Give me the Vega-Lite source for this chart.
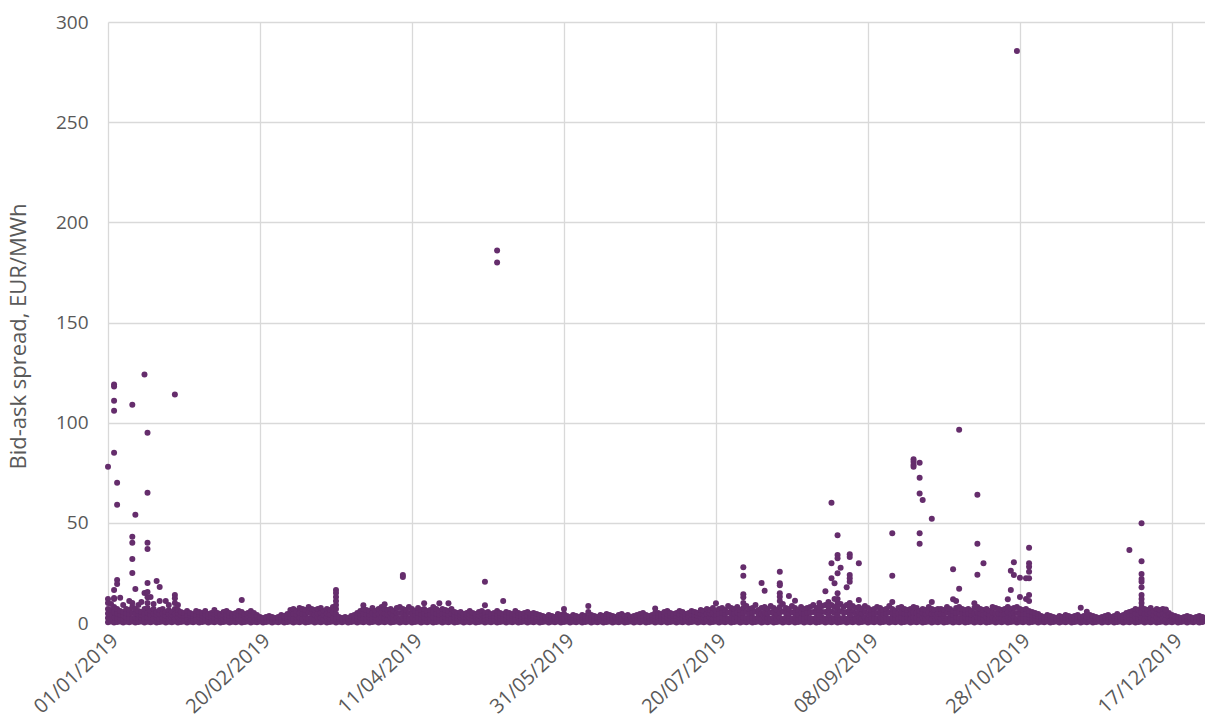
{
"$schema": "https://vega.github.io/schema/vega-lite/v6.json",
"width": 1097,
"height": 601,
"autosize": {"type": "none"},
"padding": {"left": 108, "top": 22, "right": 0, "bottom": 101},
"config": {"view": {"stroke": null}, "font": "Open Sans"},
"encoding": {
  "x": {"field": "d", "type": "temporal",
    "scale": {"domain": [{"year": 2019, "month": 1, "date": 1}, {"year": 2019, "month": 12, "date": 27, "hours": 21}]},
    "axis": {"values": [{"year": 2019, "month": 1, "date": 1}, {"year": 2019, "month": 2, "date": 20}, {"year": 2019, "month": 4, "date": 11}, {"year": 2019, "month": 5, "date": 31}, {"year": 2019, "month": 7, "date": 20}, {"year": 2019, "month": 9, "date": 8}, {"year": 2019, "month": 10, "date": 28}, {"year": 2019, "month": 12, "date": 17}],
      "format": "%d/%m/%Y", "title": null, "labelAngle": -43, "labelAlign": "right", "labelBaseline": "top", "labelPadding": 7,
      "labelFontSize": 20, "labelColor": "#595959", "grid": true, "gridColor": "#d9d9d9", "gridWidth": 1.3, "domain": false, "ticks": false, "labelOverlap": false}},
  "y": {"field": "v", "type": "quantitative",
    "scale": {"domain": [0, 300], "nice": false},
    "axis": {"values": [0, 50, 100, 150, 200, 250, 300], "title": "Bid-ask spread, EUR/MWh", "titleFontSize": 22, "titleFontWeight": "normal", "titleColor": "#595959", "titlePadding": 25, "titleY": 314,
      "labelFontSize": 19, "labelColor": "#595959", "labelPadding": 20, "grid": true, "gridColor": "#d9d9d9", "gridWidth": 1.3, "domain": false, "ticks": false}}
},
"layer": [
{
"data": {"values": "d,a,b,c,t\n2019-01-01,.4,2.5,4.8,7\n2019-01-02,.7,2.1,4.3,6.5\n2019-01-03,.2,2.8,5.4,8\n2019-01-04,.5,2.3,4.7,7\n2019-01-05,.8,2.6,4.3,6\n2019-01-06,.3,2.0,3.8,5.5\n2019-01-07,.6,2.7,4.9,7\n2019-01-08,.4,2.5,4.5,6.5\n2019-01-09,.7,2.1,5,8\n2019-01-10,.2,2.8,4.9,7\n2019-01-11,.5,2.3,4.2,6\n2019-01-12,.8,2.6,4,5.5\n2019-01-13,.3,2.0,4.5,7\n2019-01-14,.6,2.7,5.1,7.5\n2019-01-15,.4,2.5,4.3,6\n2019-01-16,.7,2.1,4.6,7\n2019-01-17,.2,2.8,4.2,5.5\n2019-01-18,.5,2.3,4.4,6.5\n2019-01-19,.8,2.6,4.8,7\n2019-01-20,.3,2.0,3.8,5.5\n2019-01-21,.6,2.7,4.6,6.5\n2019-01-22,.4,2.5,4,5.5\n2019-01-23,.7,2.1,4.6,7\n2019-01-24,.2,2.8,4.7,6.5\n2019-01-25,.5,2.3,3.9,5.5\n2019-01-26,.8,2.6,3.8,5\n2019-01-27,.3,2.0,4,6\n2019-01-28,.6,2.7,3.9,5\n2019-01-29,.4,2.5,3.5,4.5\n2019-01-30,.7,2.1,4,6\n2019-01-31,.2,2.8,4.2,5.5\n2019-02-01,.5,2.3,3.7,5\n2019-02-02,.8,2.6,4.3,6\n2019-02-03,.3,2.0,3.3,4.5\n2019-02-04,.6,2.7,3.9,5\n2019-02-05,.4,2.5,4.5,6.5\n2019-02-06,.7,2.1,3.6,5\n2019-02-07,.2,2.8,3.7,4.5\n2019-02-08,.5,2.3,3.9,5.5\n2019-02-09,.8,2.6,4.3,6\n2019-02-10,.3,2.0,3.5,5\n2019-02-11,.6,2.7,3.6,4.5\n2019-02-12,.4,2.5,3.8,5\n2019-02-13,.7,2.1,4,6\n2019-02-14,.2,2.8,4.2,5.5\n2019-02-15,.5,2.3,3.4,4.5\n2019-02-16,.8,2.6,3.8,5\n2019-02-17,.3,2.0,4,6\n2019-02-18,.6,2.7,3.9,5\n2019-02-19,.4,2.5,3.3,4\n2019-02-20,.7,2.1,2.6,3\n2019-02-21,.2,1.8,2.2,2.5\n2019-02-22,.5,2.3,2.7,3\n2019-02-23,.8,2.6,3,3.5\n2019-02-24,.3,2.0,2.5,3\n2019-02-25,.6,1.9,2.2,2.5\n2019-02-26,.4,2.5,2.8,3\n2019-02-27,.7,2.1,3,4\n2019-02-28,.2,2.8,3.2,3.5\n2019-03-01,.5,2.3,3.4,4.5\n2019-03-02,.8,2.6,4.5,6.5\n2019-03-03,.3,2.0,4.5,7\n2019-03-04,.6,2.7,4.3,6\n2019-03-05,.4,2.5,5,7.5\n2019-03-06,.7,2.1,4.6,7\n2019-03-07,.2,2.8,4.6,6.5\n2019-03-08,.5,2.3,5.1,8\n2019-03-09,.8,2.6,4.8,7\n2019-03-10,.3,2.0,4.3,6.5\n2019-03-11,.6,2.7,4.8,7\n2019-03-12,.4,2.5,5,7.5\n2019-03-13,.7,2.1,4,6\n2019-03-14,.2,2.8,4.9,7\n2019-03-15,.5,2.3,4.4,6.5\n2019-03-16,.8,2.6,5.3,8\n2019-03-17,.3,2.0,4.5,7\n2019-03-18,.6,2.2,2.6,3\n2019-03-19,.4,1.9,2.2,2.5\n2019-03-20,.7,2.1,2.6,3\n2019-03-21,.2,1.8,2.2,2.5\n2019-03-22,.5,2.3,2.9,3.5\n2019-03-23,.8,2.6,3.3,4\n2019-03-24,.3,2.0,3.5,5\n2019-03-25,.6,2.7,4.3,6\n2019-03-26,.4,2.5,4.7,7\n2019-03-27,.7,2.1,4.3,6.5\n2019-03-28,.2,2.8,4.4,6\n2019-03-29,.5,2.3,4.9,7.5\n2019-03-30,.8,2.6,4.3,6\n2019-03-31,.3,2.0,4.5,7\n2019-04-01,.6,2.7,5.3,8\n2019-04-02,.4,2.5,4.7,7\n2019-04-03,.7,2.1,4.3,6.5\n2019-04-04,.2,2.8,4.9,7\n2019-04-05,.5,2.3,4.2,6\n2019-04-06,.8,2.6,5,7.5\n2019-04-07,.3,2.0,5,8\n2019-04-08,.6,2.7,4.8,7\n2019-04-09,.4,2.5,4.5,6.5\n2019-04-10,.7,2.1,5,8\n2019-04-11,.2,2.8,4.9,7\n2019-04-12,.5,2.3,4.2,6\n2019-04-13,.8,2.6,5,7.5\n2019-04-14,.3,2.0,4.3,6.5\n2019-04-15,.6,2.7,4.8,7\n2019-04-16,.4,2.5,4.3,6\n2019-04-17,.7,2.1,4.3,6.5\n2019-04-18,.2,2.8,5.4,8\n2019-04-19,.5,2.3,4.7,7\n2019-04-20,.8,2.6,4.3,6\n2019-04-21,.3,2.0,4.5,7\n2019-04-22,.6,2.7,4.6,6.5\n2019-04-23,.4,2.5,4.3,6\n2019-04-24,.7,2.1,4.6,7\n2019-04-25,.2,2.8,4.2,5.5\n2019-04-26,.5,2.3,3.7,5\n2019-04-27,.8,2.6,4,5.5\n2019-04-28,.3,2.0,3.3,4.5\n2019-04-29,.6,2.7,3.9,5\n2019-04-30,.4,2.5,4.3,6\n2019-05-01,.7,2.1,3.6,5\n2019-05-02,.2,2.8,3.7,4.5\n2019-05-03,.5,2.3,3.9,5.5\n2019-05-04,.8,2.6,4.3,6\n2019-05-05,.3,2.0,3.5,5\n2019-05-06,.6,2.7,4.1,5.5\n2019-05-07,.4,2.5,3.5,4.5\n2019-05-08,.7,2.1,3.6,5\n2019-05-09,.2,2.8,4.4,6\n2019-05-10,.5,2.3,3.7,5\n2019-05-11,.8,2.6,3.6,4.5\n2019-05-12,.3,2.0,3.8,5.5\n2019-05-13,.6,2.7,3.9,5\n2019-05-14,.4,2.5,3.5,4.5\n2019-05-15,.7,2.1,4,6\n2019-05-16,.2,2.8,3.9,5\n2019-05-17,.5,2.3,3.4,4.5\n2019-05-18,.8,2.6,3.8,5\n2019-05-19,.3,2.0,3.8,5.5\n2019-05-20,.6,2.7,3.6,4.5\n2019-05-21,.4,2.5,3.8,5\n2019-05-22,.7,2.1,3.3,4.5\n2019-05-23,.2,2.4,3.2,4\n2019-05-24,.5,2.3,2.9,3.5\n2019-05-25,.8,2.0,2.5,3\n2019-05-26,.3,2.0,3,4\n2019-05-27,.6,2.3,2.9,3.5\n2019-05-28,.4,2.1,2.6,3\n2019-05-29,.7,2.1,3.3,4.5\n2019-05-30,.2,2.6,3.3,4\n2019-05-31,.5,2.3,4.6,7\n2019-06-01,.8,2.4,2.9,3.5\n2019-06-02,.3,2.0,2.5,3\n2019-06-03,.6,2.5,3.2,4\n2019-06-04,.4,2.3,2.9,3.5\n2019-06-05,.7,2.1,2.6,3\n2019-06-06,.2,2.6,3.3,4\n2019-06-07,.5,2.3,2.9,3.5\n2019-06-08,.8,2.6,5.5,8.5\n2019-06-09,.3,2.0,3,4\n2019-06-10,.6,2.4,2.9,3.5\n2019-06-11,.4,2.2,2.6,3\n2019-06-12,.7,2.1,3,4\n2019-06-13,.2,2.5,3,3.5\n2019-06-14,.5,2.3,3.4,4.5\n2019-06-15,.8,2.6,3.3,4\n2019-06-16,.3,2.0,2.8,3.5\n2019-06-17,.6,2.2,2.6,3\n2019-06-18,.4,2.5,3.2,4\n2019-06-19,.7,2.1,3.3,4.5\n2019-06-20,.2,2.6,3,3.5\n2019-06-21,.5,2.3,3.2,4\n2019-06-22,.8,2.1,2.6,3\n2019-06-23,.3,2.0,2.8,3.5\n2019-06-24,.6,2.5,3.2,4\n2019-06-25,.4,2.5,3.5,4.5\n2019-06-26,.7,2.1,3.6,5\n2019-06-27,.2,2.6,3.3,4\n2019-06-28,.5,2.3,2.9,3.5\n2019-06-29,.8,2.6,3.3,4\n2019-06-30,.3,2.0,3.5,5\n2019-07-01,.6,2.7,3.9,5\n2019-07-02,.4,2.5,3.5,4.5\n2019-07-03,.7,2.1,3.8,5.5\n2019-07-04,.2,2.8,4.4,6\n2019-07-05,.5,2.3,3.7,5\n2019-07-06,.8,2.6,3.6,4.5\n2019-07-07,.3,2.0,3.5,5\n2019-07-08,.6,2.7,4.3,6\n2019-07-09,.4,2.5,4,5.5\n2019-07-10,.7,2.1,3.3,4.5\n2019-07-11,.2,2.8,3.9,5\n2019-07-12,.5,2.3,4.2,6\n2019-07-13,.8,2.6,4,5.5\n2019-07-14,.3,2.0,3.5,5\n2019-07-15,.6,2.7,4.6,6.5\n2019-07-16,.4,2.5,4.3,6\n2019-07-17,.7,2.1,4.6,7\n2019-07-18,.2,2.8,4.7,6.5\n2019-07-19,.5,2.3,4.9,7.5\n2019-07-20,.8,2.6,4.3,6\n2019-07-21,.3,2.0,4.5,7\n2019-07-22,.6,2.7,5.1,7.5\n2019-07-23,.4,2.5,4.5,6.5\n2019-07-24,.7,2.1,5.3,8.5\n2019-07-25,.2,2.8,5.2,7.5\n2019-07-26,.5,2.3,4.7,7\n2019-07-27,.8,2.6,5.3,8\n2019-07-28,.3,2.0,4.3,6.5\n2019-07-29,.6,2.7,5.1,7.5\n2019-07-30,.4,2.5,5.5,8.5\n2019-07-31,.7,2.1,4.6,7\n2019-08-01,.2,2.8,5.2,7.5\n2019-08-02,.5,2.3,5.7,9\n2019-08-03,.8,2.6,4.6,6.5\n2019-08-04,.3,2.0,4.8,7.5\n2019-08-05,.6,2.7,5.4,8\n2019-08-06,.4,2.5,4.8,7\n2019-08-07,.7,2.1,5.3,8.5\n2019-08-08,.2,2.8,5.2,7.5\n2019-08-09,.5,2.3,4.4,6.5\n2019-08-10,.8,2.6,5.3,8\n2019-08-11,.3,2.0,5.8,9.5\n2019-08-12,.6,2.7,5.1,7.5\n2019-08-13,.4,2.5,4.8,7\n2019-08-14,.7,2.1,5.3,8.5\n2019-08-15,.2,2.8,5.2,7.5\n2019-08-16,.5,2.3,4.4,6.5\n2019-08-17,.8,2.6,5.3,8\n2019-08-18,.3,2.0,4.5,7\n2019-08-19,.6,2.7,5.1,7.5\n2019-08-20,.4,2.5,5.2,8\n2019-08-21,.7,2.1,5.5,9\n2019-08-22,.2,2.8,5.2,7.5\n2019-08-23,.5,2.3,6.2,10\n2019-08-24,.8,2.6,5.5,8.5\n2019-08-25,.3,2.0,5.5,9\n2019-08-26,.6,2.7,6.6,10.5\n2019-08-27,.4,2.5,5.7,9\n2019-08-28,.7,2.1,5,8\n2019-08-29,.2,2.8,6.4,10\n2019-08-30,.5,2.3,5.9,9.5\n2019-08-31,.8,2.6,5.3,8\n2019-09-01,.3,2.0,5.5,9\n2019-09-02,.6,2.7,6.3,10\n2019-09-03,.4,2.5,5.5,8.5\n2019-09-04,.7,2.1,4.8,7.5\n2019-09-05,.2,2.8,5.4,8\n2019-09-06,.5,2.3,4.7,7\n2019-09-07,.8,2.6,5.5,8.5\n2019-09-08,.3,2.0,4.8,7.5\n2019-09-09,.6,2.7,4.6,6.5\n2019-09-10,.4,2.5,4.7,7\n2019-09-11,.7,2.1,5,8\n2019-09-12,.2,2.8,5.2,7.5\n2019-09-13,.5,2.3,4.4,6.5\n2019-09-14,.8,2.6,4.8,7\n2019-09-15,.3,2.0,5.2,8.5\n2019-09-16,.6,2.7,4.8,7\n2019-09-17,.4,2.5,4.3,6\n2019-09-18,.7,2.1,4.8,7.5\n2019-09-19,.2,2.8,5.4,8\n2019-09-20,.5,2.3,4.7,7\n2019-09-21,.8,2.6,4.6,6.5\n2019-09-22,.3,2.0,4.5,7\n2019-09-23,.6,2.7,5.3,8\n2019-09-24,.4,2.5,5,7.5\n2019-09-25,.7,2.1,4,6\n2019-09-26,.2,2.8,4.9,7\n2019-09-27,.5,2.3,4.4,6.5\n2019-09-28,.8,2.6,5.3,8\n2019-09-29,.3,2.0,4.5,7\n2019-09-30,.6,2.7,4.6,6.5\n2019-10-01,.4,2.5,4.7,7\n2019-10-02,.7,2.1,4.6,7\n2019-10-03,.2,2.8,4.7,6.5\n2019-10-04,.5,2.3,5.1,8\n2019-10-05,.8,2.6,4.8,7\n2019-10-06,.3,2.0,4,6\n2019-10-07,.6,2.7,5.1,7.5\n2019-10-08,.4,2.5,5.2,8\n2019-10-09,.7,2.1,4.6,7\n2019-10-10,.2,2.8,4.7,6.5\n2019-10-11,.5,2.3,4.7,7\n2019-10-12,.8,2.6,4.3,6\n2019-10-13,.3,2.0,4.8,7.5\n2019-10-14,.6,2.7,5.3,8\n2019-10-15,.4,2.5,4.7,7\n2019-10-16,.7,2.1,4.3,6.5\n2019-10-17,.2,2.8,4.9,7\n2019-10-18,.5,2.3,4.2,6\n2019-10-19,.8,2.6,5.3,8\n2019-10-20,.3,2.0,4.8,7.5\n2019-10-21,.6,2.7,4.8,7\n2019-10-22,.4,2.5,4.5,6.5\n2019-10-23,.7,2.1,4.6,7\n2019-10-24,.2,2.8,5.4,8\n2019-10-25,.5,2.3,4.7,7\n2019-10-26,.8,2.6,5,7.5\n2019-10-27,.3,2.0,5,8\n2019-10-28,.6,2.7,4.8,7\n2019-10-29,.4,2.5,4.5,6.5\n2019-10-30,.7,2.1,4.6,7\n2019-10-31,.2,2.8,4.4,6\n2019-11-01,.5,2.3,3.9,5.5\n2019-11-02,.8,2.6,3.8,5\n2019-11-03,.3,2.0,3.3,4.5\n2019-11-04,.6,2.2,2.9,3.5\n2019-11-05,.4,2.0,2.5,3\n2019-11-06,.7,2.1,3,4\n2019-11-07,.2,2.3,2.9,3.5\n2019-11-08,.5,2.0,2.5,3\n2019-11-09,.8,1.9,2.2,2.5\n2019-11-10,.3,2.0,2.8,3.5\n2019-11-11,.6,2.2,2.6,3\n2019-11-12,.4,2.5,3.2,4\n2019-11-13,.7,2.1,2.8,3.5\n2019-11-14,.2,2.0,2.5,3\n2019-11-15,.5,2.3,2.9,3.5\n2019-11-16,.8,2.6,3.3,4\n2019-11-17,.3,2.0,2.5,3\n2019-11-18,.6,2.2,2.9,3.5\n2019-11-19,.4,2.0,2.5,3\n2019-11-20,.7,2.1,3,4\n2019-11-21,.2,2.3,2.9,3.5\n2019-11-22,.5,2.0,2.5,3\n2019-11-23,.8,1.9,2.2,2.5\n2019-11-24,.3,2.0,2.5,3\n2019-11-25,.6,2.2,2.9,3.5\n2019-11-26,.4,2.5,3.2,4\n2019-11-27,.7,2.1,2.6,3\n2019-11-28,.2,2.3,2.9,3.5\n2019-11-29,.5,2.3,3.4,4.5\n2019-11-30,.8,2.2,2.9,3.5\n2019-12-01,.3,2.0,3,4\n2019-12-02,.6,2.7,3.9,5\n2019-12-03,.4,2.5,4,5.5\n2019-12-04,.7,2.1,4,6\n2019-12-05,.2,2.8,4.9,7\n2019-12-06,.5,2.3,4.4,6.5\n2019-12-07,.8,2.6,5.3,8\n2019-12-08,.3,2.0,4.5,7\n2019-12-09,.6,2.7,4.6,6.5\n2019-12-10,.4,2.5,5,7.5\n2019-12-11,.7,2.1,4,6\n2019-12-12,.2,2.8,4.9,7\n2019-12-13,.5,2.3,4.4,6.5\n2019-12-14,.8,2.6,4.8,7\n2019-12-15,.3,2.0,4,6\n2019-12-16,.6,2.7,3.9,5\n2019-12-17,.4,2.5,3.2,4\n2019-12-18,.7,2.1,2.8,3.5\n2019-12-19,.2,2.0,2.5,3\n2019-12-20,.5,1.9,2.2,2.5\n2019-12-21,.8,2.0,2.5,3\n2019-12-22,.3,2.0,2.8,3.5\n2019-12-23,.6,2.2,2.6,3\n2019-12-24,.4,1.9,2.2,2.5\n2019-12-25,.7,2.1,2.6,3\n2019-12-26,.2,2.3,2.9,3.5\n2019-12-27,.5,2.0,2.5,3",
  "format": {"type": "csv", "parse": {"d": "date:'%Y-%m-%d'", "a": "number", "b": "number", "c": "number", "t": "number"}}},
"transform": [{"fold": ["a", "b", "c", "t"], "as": ["k", "v"]}],
"mark": {"type": "circle", "size": 36, "color": "#652d6c", "opacity": 1}
},
{
"data": {"values": "d,v\n2019-01-01,78\n2019-01-01,12\n2019-01-01,10\n2019-01-02,9.5\n2019-01-03,119\n2019-01-03,118\n2019-01-03,111\n2019-01-03,106\n2019-01-03,85\n2019-01-03,16.5\n2019-01-03,12.5\n2019-01-03,12\n2019-01-04,70\n2019-01-04,59\n2019-01-04,21.5\n2019-01-04,19.5\n2019-01-05,12.6\n2019-01-06,9\n2019-01-08,11\n2019-01-09,109\n2019-01-09,43\n2019-01-09,40\n2019-01-09,32\n2019-01-09,25\n2019-01-09,10\n2019-01-10,54\n2019-01-10,17\n2019-01-11,9\n2019-01-12,10.5\n2019-01-13,124\n2019-01-13,15\n2019-01-14,95\n2019-01-14,65\n2019-01-14,40\n2019-01-14,37\n2019-01-14,20\n2019-01-14,15.5\n2019-01-14,12.8\n2019-01-14,10\n2019-01-15,13\n2019-01-16,9.5\n2019-01-17,21\n2019-01-18,18\n2019-01-18,11\n2019-01-20,11\n2019-01-21,9\n2019-01-23,114\n2019-01-23,14\n2019-01-23,12.3\n2019-01-23,10\n2019-01-24,9\n2019-02-14,11.5\n2019-03-17,16.5\n2019-03-17,15\n2019-03-17,13\n2019-03-17,11\n2019-03-17,9\n2019-03-26,8.8\n2019-04-02,9.3\n2019-04-08,24\n2019-04-08,23\n2019-04-15,9.8\n2019-04-20,9.8\n2019-04-23,9.8\n2019-05-05,20.6\n2019-05-05,8.8\n2019-05-09,186\n2019-05-09,180\n2019-05-11,11\n2019-06-30,7.3\n2019-07-20,9.8\n2019-07-29,27.8\n2019-07-29,23.6\n2019-07-29,14.3\n2019-07-29,12.8\n2019-07-29,10\n2019-08-04,20\n2019-08-05,16.1\n2019-08-10,25.6\n2019-08-10,19.8\n2019-08-10,18.8\n2019-08-10,14.8\n2019-08-10,13.1\n2019-08-10,11\n2019-08-13,13.5\n2019-08-15,11.1\n2019-08-23,4\n2019-08-23,8\n2019-08-25,15.8\n2019-08-26,4\n2019-08-26,8.5\n2019-08-27,60\n2019-08-27,29.8\n2019-08-27,22.3\n2019-08-28,19.8\n2019-08-28,12\n2019-08-29,43.8\n2019-08-29,34\n2019-08-29,32.3\n2019-08-29,24.8\n2019-08-29,14.8\n2019-08-29,12\n2019-08-29,4\n2019-08-29,8\n2019-08-30,27.6\n2019-09-01,17.8\n2019-09-02,34.3\n2019-09-02,33\n2019-09-02,24\n2019-09-02,22.3\n2019-09-02,20.6\n2019-09-02,4\n2019-09-02,8\n2019-09-05,29.8\n2019-09-05,11.5\n2019-09-16,44.8\n2019-09-16,23.6\n2019-09-16,10.5\n2019-09-23,81.7\n2019-09-23,80.5\n2019-09-23,79\n2019-09-23,78\n2019-09-25,80\n2019-09-25,72.5\n2019-09-25,64.7\n2019-09-25,44.8\n2019-09-25,39.6\n2019-09-26,61.4\n2019-09-29,52\n2019-09-29,10.5\n2019-10-06,26.8\n2019-10-06,11.8\n2019-10-07,11\n2019-10-08,96.5\n2019-10-08,17.1\n2019-10-13,9.8\n2019-10-14,64\n2019-10-14,39.6\n2019-10-14,24.1\n2019-10-16,29.8\n2019-10-24,11.8\n2019-10-25,26.1\n2019-10-25,16.5\n2019-10-26,30.3\n2019-10-26,24\n2019-10-27,285.5\n2019-10-28,22.6\n2019-10-28,13\n2019-10-30,22.3\n2019-10-30,12\n2019-10-31,37.6\n2019-10-31,29.8\n2019-10-31,28.1\n2019-10-31,25.6\n2019-10-31,22.3\n2019-10-31,14\n2019-10-31,11\n2019-11-17,7.6\n2019-11-19,5.6\n2019-12-03,36.4\n2019-12-07,49.8\n2019-12-07,30.8\n2019-12-07,24.5\n2019-12-07,22\n2019-12-07,20.6\n2019-12-07,17.8\n2019-12-07,14\n2019-12-07,12\n2019-12-07,10\n2019-12-15,6.8",
  "format": {"type": "csv", "parse": {"d": "date:'%Y-%m-%d'", "v": "number"}}},
"mark": {"type": "circle", "size": 36, "color": "#652d6c", "opacity": 1}
}
]
}
